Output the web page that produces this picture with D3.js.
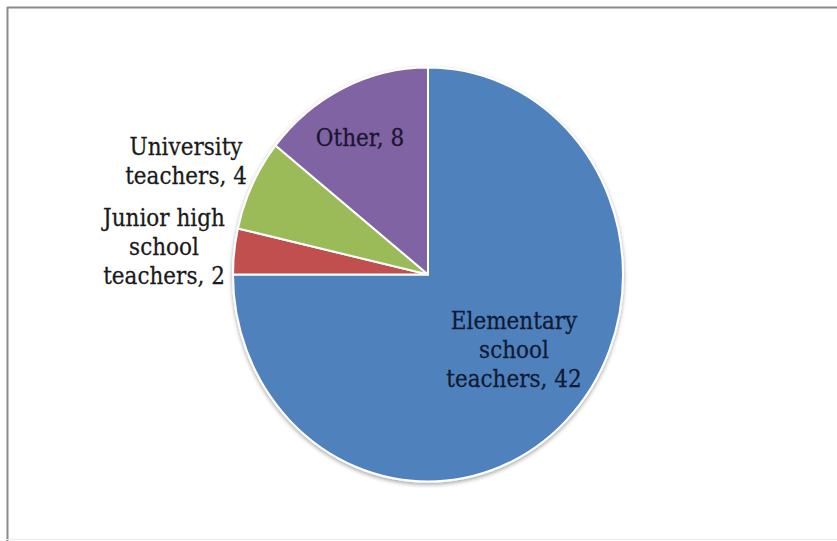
<!DOCTYPE html>
<html>
<head>
<meta charset="utf-8">
<script src="https://cdn.jsdelivr.net/npm/d3@7"></script>
<style>
  html, body { margin: 0; padding: 0; background: #fff; }
  svg { display: block; }
  text { font-family: "DejaVu Serif", "Liberation Serif", serif; }
</style>
</head>
<body>
<svg id="chart" width="837" height="541"></svg>
<script>
// ---- data ----
const categories = ["Elementary school teachers", "Junior high school teachers", "University teachers", "Other"];
const values = [42, 2, 4, 8];
const colors = ["#4f81bd", "#c0504d", "#9bbb59", "#8064a2"];
const labelLines = [
  ["Elementary", "school", "teachers, 42"],
  ["Junior high", "school", "teachers, 2"],
  ["University", "teachers, 4"],
  ["Other, 8"]
];

// ---- layout ----
const W = 837, H = 541;
const cx = 428, cy = 274.5, rx = 195, ry = 207;
const labelLayout = [
  { x: 514, y: 329, fill: "#101a33" },
  { x: 164, y: 226, fill: "#1a1a1a" },
  { x: 186, y: 155, fill: "#1a1a1a" },
  { x: 360, y: 146, fill: "#1a1530" }
];
const lineH = 29;

const svg = d3.select("#chart");

// frame
svg.append("line").attr("x1", 7).attr("y1", 7.5).attr("x2", W).attr("y2", 7.5)
  .attr("stroke", "#8a8a8a").attr("stroke-width", 2);
svg.append("line").attr("x1", 7.5).attr("y1", 7).attr("x2", 7.5).attr("y2", H)
  .attr("stroke", "#8a8a8a").attr("stroke-width", 2);
svg.append("line").attr("x1", 7).attr("y1", 539.5).attr("x2", W).attr("y2", 539.5)
  .attr("stroke", "#ececec").attr("stroke-width", 1);

const defs = svg.append("defs");
const f = defs.append("filter").attr("id", "shadow")
  .attr("x", "-10%").attr("y", "-10%").attr("width", "120%").attr("height", "125%");
f.append("feGaussianBlur").attr("in", "SourceAlpha").attr("stdDeviation", 2).attr("result", "b");
f.append("feOffset").attr("in", "b").attr("dx", 0).attr("dy", 2).attr("result", "o");
f.append("feComponentTransfer").attr("in", "o").attr("result", "o2")
  .append("feFuncA").attr("type", "linear").attr("slope", 0.35);
const m = f.append("feMerge");
m.append("feMergeNode").attr("in", "o2");
m.append("feMergeNode").attr("in", "SourceGraphic");

const pie = d3.pie().sort(null).value(d => d)
  .startAngle(0).endAngle(2 * Math.PI);
const arcs = pie(values);
const arc = d3.arc().innerRadius(0).outerRadius(ry);

const g = svg.append("g")
  .attr("transform", `translate(${cx},${cy}) scale(${rx / ry},1)`)
  .attr("filter", "url(#shadow)");

g.selectAll("path.slice")
  .data(arcs)
  .join("path")
  .attr("class", "slice")
  .attr("d", arc)
  .attr("fill", (d, i) => colors[i])
  .attr("stroke", "#ffffff")
  .attr("stroke-width", 2)
  .attr("stroke-linejoin", "round")
  .attr("vector-effect", "non-scaling-stroke");

// labels (slightly tall, like the reference's stretched serif)
const lg = svg.append("g");
labelLines.forEach((lines, i) => {
  const L = labelLayout[i];
  const t = lg.append("text")
    .attr("transform", `translate(${L.x},${L.y}) scale(0.98,1.1)`)
    .attr("text-anchor", "middle")
    .attr("font-size", 22)
    .attr("fill", L.fill)
    .attr("stroke", L.fill)
    .attr("stroke-width", 0.25);
  lines.forEach((s, j) => {
    t.append("tspan").attr("x", 0).attr("y", j * lineH / 1.1).text(s);
  });
});
</script>
</body>
</html>
